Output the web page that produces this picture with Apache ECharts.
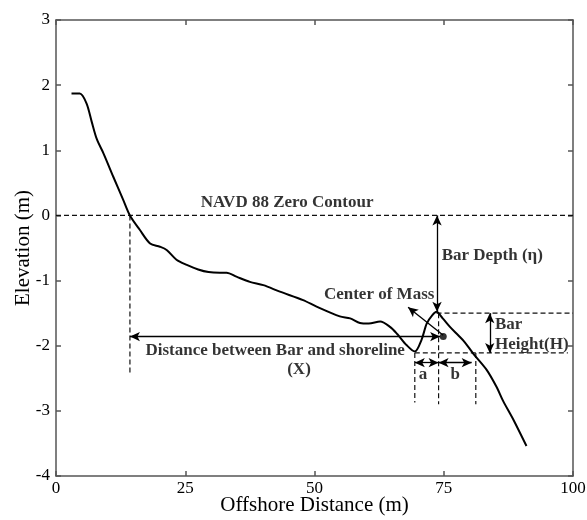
<!DOCTYPE html>
<html><head><meta charset="utf-8">
<script src="https://cdn.jsdelivr.net/npm/echarts@6/dist/echarts.min.js"></script>
<style>html,body{margin:0;padding:0;background:#fff}#c{width:587px;height:520px}</style>
</head><body><div id="c"></div>
<script>
// Beach profile
const profileX = [3.0, 4.6, 5.9, 6.9, 7.9, 9.2, 11.1, 13.0, 14.3, 16.2, 18.2, 20.1, 21.4, 23.3, 25.3, 27.5, 29.5, 31.7, 33.0, 34.9, 37.5, 40.1, 43.3, 47.8, 50.4, 54.9, 56.9, 58.8, 60.5, 62.7, 64.6, 66.0, 67.8, 69.4, 70.7, 71.7, 72.8, 73.6, 74.8, 76.2, 77.8, 79.0, 80.7, 83.3, 85.2, 86.5, 88.5, 91.0];
const profileY = [1.87, 1.87, 1.72, 1.44, 1.17, 0.95, 0.59, 0.24, 0.0, -0.22, -0.43, -0.48, -0.53, -0.68, -0.76, -0.83, -0.87, -0.88, -0.88, -0.94, -1.02, -1.07, -1.17, -1.30, -1.40, -1.55, -1.58, -1.65, -1.66, -1.63, -1.71, -1.82, -1.99, -2.09, -1.91, -1.66, -1.53, -1.48, -1.58, -1.71, -1.84, -1.94, -2.12, -2.37, -2.63, -2.85, -3.14, -3.54];

// Tick labels
const xTicks = [0, 25, 50, 75, 100];
const yTicks = [-4, -3, -2, -1, 0, 1, 2, 3];

// Annotation geometry (data units)
const zeroContour = [[0, 0], [100, 0]];
const shorelineDrop = [[14.3, 0], [14.3, -2.45]];
const crestLevel = [[73.6, -1.50], [100, -1.50]];
const troughLevel = [[69.4, -2.11], [99, -2.11]];
const troughDrop = [[69.4, -2.11], [69.4, -2.87]];
const crestDrop = [[74.0, -1.50], [74.0, -2.90]];
const bEndDrop = [[81.2, -2.11], [81.2, -2.90]];
const barDepthArrow = [[73.7, 0], [73.7, -1.48]];
const barHeightArrow = [[83.9, -1.50], [83.9, -2.11]];
const distanceArrow = [[14.3, -1.86], [74.3, -1.86]];
const massArrow = [[74.9, -1.84], [68.1, -1.41]];
const aArrow = [[69.4, -2.26], [74.0, -2.26]];
const bArrow = [[74.0, -2.26], [80.4, -2.26]];
const centerOfMass = [74.9, -1.86];

const labelsText = ['NAVD 88 Zero Contour', 'Bar Depth (η)', 'Center of Mass', 'Bar', 'Height(H)', 'Distance between Bar and shoreline', '(X)', 'a', 'b'];
const labelsX = [44.7, 74.6, 62.5, 84.9, 84.9, 42.4, 47.0, 71.0, 77.2];
const labelsY = [0.19, -0.61, -1.22, -1.67, -1.98, -2.07, -2.36, -2.45, -2.45];
const labelsAlign = ['center', 'left', 'center', 'left', 'left', 'center', 'center', 'center', 'center'];

const serif = '"Liberation Serif", "Times New Roman", serif';
const chart = echarts.init(document.getElementById('c'));

function dashed(pts) {
  return { type: 'line', data: pts, showSymbol: false, silent: true, z: 3,
    lineStyle: { color: '#111', width: 1.2, type: [5, 3] } };
}
function arrowLine(pts, startSym, endSym) {
  return [{ coord: pts[0], symbol: startSym }, { coord: pts[1], symbol: endSym }];
}

const axisLineStyle = { color: '#555', width: 1.5 };

chart.setOption({
  animation: false,
  grid: { left: 56, right: 14, top: 20, bottom: 44, show: false, containLabel: false, outerBoundsMode: 'none' },
  xAxis: [
    { type: 'value', min: 0, max: 100, interval: 25, position: 'bottom',
      axisLine: { show: true, onZero: false, lineStyle: axisLineStyle },
      axisTick: { show: true, inside: true, length: 5, lineStyle: axisLineStyle },
      splitLine: { show: false },
      axisLabel: { color: '#000', fontFamily: serif, fontSize: 17, margin: 4,
        formatter: v => xTicks.includes(v) ? String(v) : '' },
      name: 'Offshore Distance (m)', nameLocation: 'middle', nameGap: 19, nameMoveOverlap: false,
      nameTextStyle: { fontFamily: serif, fontSize: 21, color: '#000' } },
    { type: 'value', min: 0, max: 100, interval: 25, position: 'top',
      axisLine: { show: true, onZero: false, lineStyle: axisLineStyle },
      axisTick: { show: true, inside: true, length: 5, lineStyle: axisLineStyle },
      axisLabel: { show: false }, splitLine: { show: false } }
  ],
  yAxis: [
    { type: 'value', min: -4, max: 3, interval: 1, position: 'left',
      axisLine: { show: true, onZero: false, lineStyle: axisLineStyle },
      axisTick: { show: true, inside: true, length: 5, lineStyle: axisLineStyle },
      splitLine: { show: false },
      axisLabel: { color: '#000', fontFamily: serif, fontSize: 17, margin: 6,
        formatter: v => yTicks.includes(v) ? String(v) : '' },
      name: 'Elevation (m)', nameLocation: 'middle', nameGap: 22, nameMoveOverlap: false,
      nameTextStyle: { fontFamily: serif, fontSize: 21, color: '#000' } },
    { type: 'value', min: -4, max: 3, interval: 1, position: 'right',
      axisLine: { show: true, onZero: false, lineStyle: axisLineStyle },
      axisTick: { show: true, inside: true, length: 5, lineStyle: axisLineStyle },
      axisLabel: { show: false }, splitLine: { show: false } }
  ],
  series: [
    { type: 'line', data: profileX.map((x, i) => [x, profileY[i]]), smooth: 0.3,
      showSymbol: false, z: 5, lineStyle: { color: '#000', width: 2 } },
    dashed(zeroContour), dashed(shorelineDrop), dashed(crestLevel), dashed(troughLevel),
    dashed(troughDrop), dashed(crestDrop), dashed(bEndDrop),
    { type: 'scatter', data: [centerOfMass], symbolSize: 7, z: 6,
      itemStyle: { color: '#000' },
      markLine: {
        silent: true, symbolSize: [7, 10], label: { show: false },
        lineStyle: { color: '#000', width: 1.3, type: 'solid' },
        data: [
          arrowLine(barDepthArrow, 'arrow', 'arrow'),
          arrowLine(barHeightArrow, 'arrow', 'arrow'),
          arrowLine(distanceArrow, 'arrow', 'arrow'),
          arrowLine(aArrow, 'arrow', 'arrow'),
          arrowLine(bArrow, 'arrow', 'arrow'),
          arrowLine(massArrow, 'none', 'arrow')
        ]
      } },
    { type: 'scatter', symbolSize: 0, z: 7, silent: true,
      data: labelsText.map((t, i) => ({ value: [labelsX[i], labelsY[i]],
        label: { show: true, position: 'inside', formatter: t, align: labelsAlign[i],
          verticalAlign: 'middle', fontFamily: serif, fontWeight: 'bold', fontSize: 17, color: '#000' } })) }
  ]
});
</script></body></html>
